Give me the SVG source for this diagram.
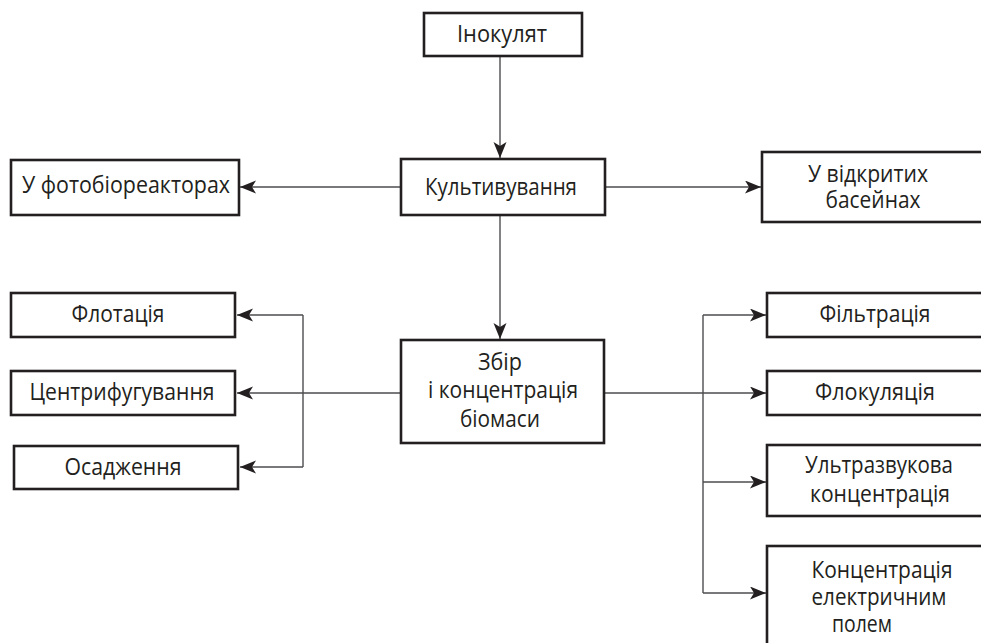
<svg xmlns="http://www.w3.org/2000/svg" width="981" height="643" viewBox="0 0 981 643">
  <defs>
    <marker id="arr" markerUnits="userSpaceOnUse" markerWidth="18" markerHeight="14" refX="16" refY="6.5" orient="auto">
      <path d="M0,0 L16,6.5 L0,13 L4,6.5 Z" fill="#231f20"/>
    </marker>
    <style>
      .box { fill: #ffffff; stroke: #231f20; stroke-width: 2.6; }
      .lbl { font-family: "Open Sans", "Noto Sans", "Liberation Sans", sans-serif; font-size: 24px; fill: #231f20; text-anchor: middle; }
      .con { fill: none; stroke: #4d4d4f; stroke-width: 1.4; }
      .arw { marker-end: url(#arr); }
    </style>
  </defs>
  <rect width="981" height="643" fill="#ffffff"/>

  <g id="connectors">
    <path class="con arw" d="M500,57 L500,158"/>
    <path class="con arw" d="M401,187 L240,187"/>
    <path class="con arw" d="M605,187 L761,187"/>
    <path class="con arw" d="M500,216 L500,339"/>
    <path class="con arw" d="M401,393 L237,393"/>
    <path class="con" d="M303,315 L303,467"/>
    <path class="con arw" d="M303,315 L237,315"/>
    <path class="con arw" d="M303,467 L240,467"/>
    <path class="con arw" d="M604,393 L766,393"/>
    <path class="con" d="M703,315 L703,593"/>
    <path class="con arw" d="M703,315 L766,315"/>
    <path class="con arw" d="M703,482 L766,482"/>
    <path class="con arw" d="M703,593 L766,593"/>
  </g>

  <g id="n_inokulyat">
    <rect class="box" x="424" y="13" width="158" height="43"/>
    <text class="lbl" x="502" y="42" textLength="90" lengthAdjust="spacingAndGlyphs">Інокулят</text>
  </g>
  <g id="n_kultyvuvannia">
    <rect class="box" x="401" y="159" width="204" height="56"/>
    <text class="lbl" x="501" y="195" textLength="152" lengthAdjust="spacingAndGlyphs">Культивування</text>
  </g>
  <g id="n_fotobioreaktory">
    <rect class="box" x="11" y="160" width="228" height="55"/>
    <text class="lbl" x="126" y="193" textLength="208" lengthAdjust="spacingAndGlyphs">У фотобіореакторах</text>
  </g>
  <g id="n_baseiny">
    <rect class="box" x="762" y="152" width="240" height="70"/>
    <text class="lbl" x="868" y="182" textLength="120" lengthAdjust="spacingAndGlyphs">У відкритих</text>
    <text class="lbl" x="873" y="208" textLength="95" lengthAdjust="spacingAndGlyphs">басейнах</text>
  </g>
  <g id="n_flotatsiia">
    <rect class="box" x="11" y="293" width="224" height="44"/>
    <text class="lbl" x="118" y="322" textLength="93" lengthAdjust="spacingAndGlyphs">Флотація</text>
  </g>
  <g id="n_tsentryfuhuvannia">
    <rect class="box" x="11" y="371" width="224" height="44"/>
    <text class="lbl" x="122" y="400" textLength="185" lengthAdjust="spacingAndGlyphs">Центрифугування</text>
  </g>
  <g id="n_osadzhennia">
    <rect class="box" x="14" y="446" width="224" height="43"/>
    <text class="lbl" x="123" y="475" textLength="117" lengthAdjust="spacingAndGlyphs">Осадження</text>
  </g>
  <g id="n_zbir">
    <rect class="box" x="401" y="340" width="203" height="103"/>
    <text class="lbl" x="500" y="370" textLength="44" lengthAdjust="spacingAndGlyphs">Збір</text>
    <text class="lbl" x="503" y="398" textLength="150" lengthAdjust="spacingAndGlyphs">і концентрація</text>
    <text class="lbl" x="500" y="427" textLength="80" lengthAdjust="spacingAndGlyphs">біомаси</text>
  </g>
  <g id="n_filtratsiia">
    <rect class="box" x="767" y="293" width="240" height="44"/>
    <text class="lbl" x="875" y="322" textLength="111" lengthAdjust="spacingAndGlyphs">Фільтрація</text>
  </g>
  <g id="n_flokuliatsiia">
    <rect class="box" x="767" y="371" width="240" height="44"/>
    <text class="lbl" x="875" y="400" textLength="120" lengthAdjust="spacingAndGlyphs">Флокуляція</text>
  </g>
  <g id="n_ultrazvukova">
    <rect class="box" x="767" y="445" width="240" height="71"/>
    <text class="lbl" x="879" y="473" textLength="148" lengthAdjust="spacingAndGlyphs">Ультразвукова</text>
    <text class="lbl" x="880" y="502" textLength="140" lengthAdjust="spacingAndGlyphs">концентрація</text>
  </g>
  <g id="n_elektrychne_pole">
    <rect class="box" x="767" y="546" width="240" height="110"/>
    <text class="lbl" x="882" y="578" textLength="141" lengthAdjust="spacingAndGlyphs">Концентрація</text>
    <text class="lbl" x="879" y="605" textLength="135" lengthAdjust="spacingAndGlyphs">електричним</text>
    <text class="lbl" x="862" y="632" textLength="60" lengthAdjust="spacingAndGlyphs">полем</text>
  </g>
</svg>
